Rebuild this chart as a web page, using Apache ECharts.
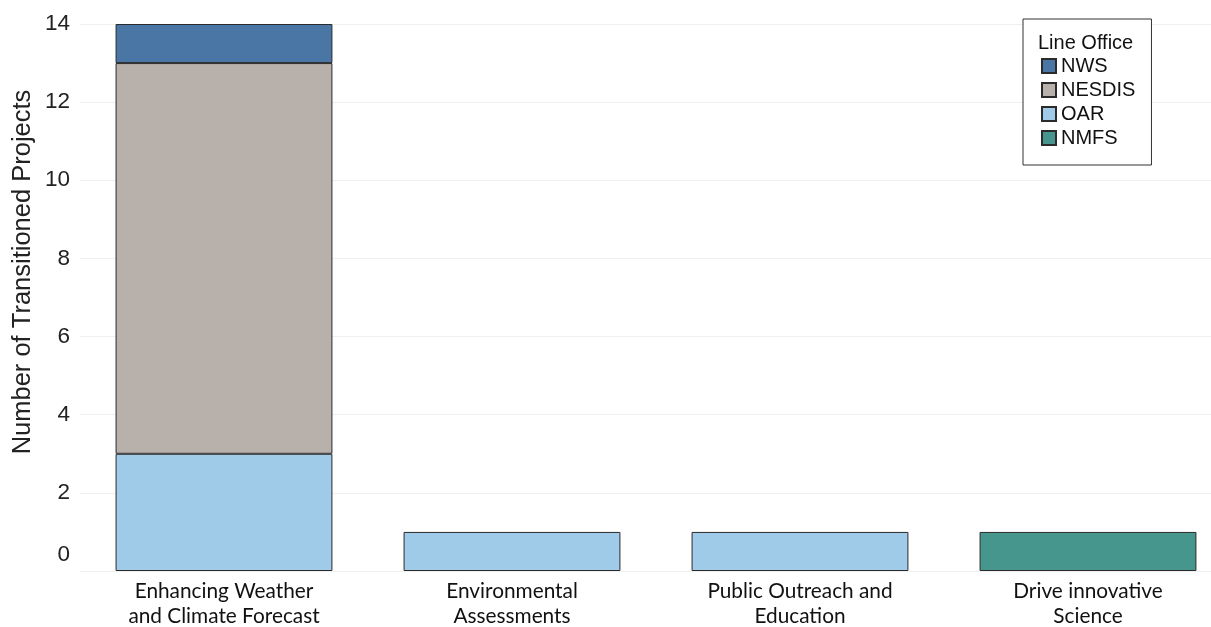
<!DOCTYPE html>
<html><head><meta charset="utf-8">
<script src="https://cdn.jsdelivr.net/npm/echarts@6/dist/echarts.min.js"></script>
<style>html,body{margin:0;padding:0;background:#fff}#c{width:1211px;height:627px}</style>
</head><body><div id="c"></div>
<script>
const categories = ['Enhancing Weather\nand Climate Forecast', 'Environmental\nAssessments', 'Public Outreach and\nEducation', 'Drive innovative\nScience'];
const oarValues = [3, 1, 1, 0];
const nesdisValues = [10, 0, 0, 0];
const nwsValues = [1, 0, 0, 0];
const nmfsValues = [0, 0, 0, 1];
const yTicks = [0, 2, 4, 6, 8, 10, 12, 14];

const colors = {NWS: '#4a76a5', NESDIS: '#b8b0ab', OAR: '#9fcae8', NMFS: '#47968e'};
function toData(arr){ return arr.map(v => v === 0 ? null : v); }
function mk(name, vals){
  return {name, type:'bar', stack:'t', data: toData(vals), barWidth: '75.3%',
    itemStyle:{color: colors[name], borderColor:'#2b2b2b', borderWidth:1}};
}
const chart = echarts.init(document.getElementById('c'));
chart.setOption({
  animation:false,
  grid:{left:80, top:24, width:1152, height:547, containLabel:false, outerBoundsMode:'none'},
  xAxis:{type:'category', data:categories, axisLine:{show:false}, axisTick:{show:false},
    axisLabel:{fontFamily:'Lato', fontSize:20.8, color:'#111', lineHeight:25, margin:8, interval:0}},
  yAxis:{type:'value', min:yTicks[0], max:yTicks[yTicks.length-1], interval:2,
    axisLine:{show:false}, axisTick:{show:false},
    splitLine:{lineStyle:{color:'#efefef', width:1}},
    axisLabel:{fontFamily:'Liberation Sans', fontSize:22.5, color:'#222', margin:10,
      formatter: v => v === 0 ? '{z|0}' : String(v),
      rich:{z:{fontFamily:'Liberation Sans', fontSize:22.5, color:'#222', padding:[0,0,32,0]}}}},
  legend:{orient:'vertical', left:1023, top:19, data:['NWS','NESDIS','OAR','NMFS'],
    icon:'rect', itemWidth:14, itemHeight:14, itemGap:4,
    padding:[37, 16, 17, 18], borderColor:'#333', borderWidth:1, backgroundColor:'#fff',
    textStyle:{fontFamily:'Liberation Sans', fontSize:20, color:'#111', lineHeight:20}},
  graphic:[
    {type:'text', z:100, x:1038, y:43, style:{text:'Line Office', font:'20px "Liberation Sans"', fill:'#111', verticalAlign:'middle'}},
    {type:'text', z:100, x:23, y:272, rotation:Math.PI/2, style:{text:'Number of Transitioned Projects', font:'25.5px "Liberation Sans"', fill:'#222', align:'center', verticalAlign:'middle'}}
  ],
  series:[mk('OAR', oarValues), mk('NESDIS', nesdisValues), mk('NWS', nwsValues), mk('NMFS', nmfsValues)]
});
</script></body></html>
